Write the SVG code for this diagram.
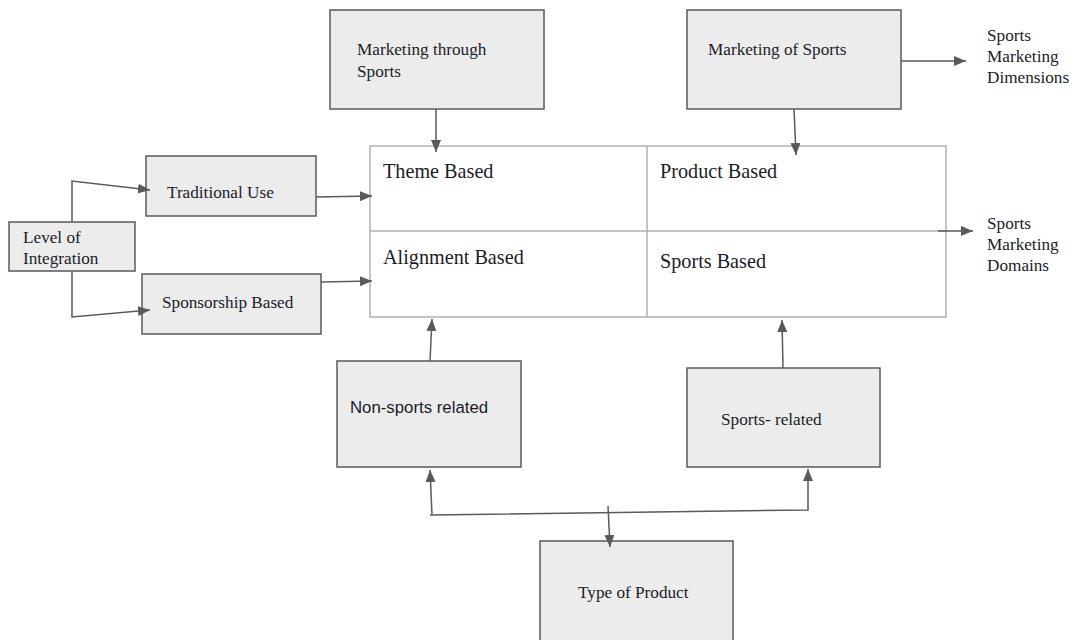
<svg xmlns="http://www.w3.org/2000/svg" width="1079" height="640" viewBox="0 0 1079 640">
<style>
.box{fill:#ececec;stroke:#5a5a5a;stroke-width:1.5}
.grid{fill:#fff;stroke:#b0b0b0;stroke-width:1.5}
.gl{stroke:#b0b0b0;stroke-width:1.5}
.c{fill:none;stroke:#5a5a5a;stroke-width:1.5}
.t{font-family:"Liberation Serif",serif;font-size:17.2px;fill:#1c1c28}
.g{font-family:"Liberation Serif",serif;font-size:20.2px;fill:#1c1c28}
.s{font-family:"Liberation Sans",sans-serif;font-size:16.8px;fill:#1c1c28}
</style>
<defs>
<marker id="a" viewBox="0 0 12 10" refX="12" refY="5" markerWidth="12" markerHeight="10" markerUnits="userSpaceOnUse" orient="auto">
<path d="M0,0 L12,5 L0,10 Z" fill="#5a5a5a"/>
</marker>
</defs>
<rect width="1079" height="640" fill="#fff"/>
<g id="grid">
<rect class="grid" x="370" y="146" width="576" height="171"/>
<line class="gl" x1="647" y1="146" x2="647" y2="317"/>
<line class="gl" x1="370" y1="231" x2="946" y2="231"/>
<text class="g" x="383" y="178">Theme Based</text>
<text class="g" x="660" y="178">Product Based</text>
<text class="g" x="383" y="264">Alignment Based</text>
<text class="g" x="660" y="268">Sports Based</text>
</g>
<g id="level">
<rect class="box" x="9" y="222" width="126" height="49"/>
<text class="t" x="23" y="243">Level of</text>
<text class="t" x="23" y="264">Integration</text>
</g>
<g id="traditional">
<rect class="box" x="146" y="156" width="170" height="60"/>
<text class="t" x="167" y="198">Traditional Use</text>
</g>
<g id="sponsorship">
<rect class="box" x="142" y="274" width="179" height="60"/>
<text class="t" x="162" y="308">Sponsorship Based</text>
</g>
<g id="through">
<rect class="box" x="330" y="10" width="214" height="99"/>
<text class="t" x="357" y="55">Marketing through</text>
<text class="t" x="357" y="77">Sports</text>
</g>
<g id="of">
<rect class="box" x="687" y="10" width="214" height="99"/>
<text class="t" x="708" y="55">Marketing of Sports</text>
</g>
<g id="dimensions">
<text class="t" x="987" y="41">Sports</text>
<text class="t" x="987" y="62">Marketing</text>
<text class="t" x="987" y="83">Dimensions</text>
</g>
<g id="domains">
<text class="t" x="987" y="229">Sports</text>
<text class="t" x="987" y="250">Marketing</text>
<text class="t" x="987" y="271">Domains</text>
</g>
<g id="nonsports">
<rect class="box" x="337" y="361" width="184" height="106"/>
<text class="s" x="350" y="413">Non-sports related</text>
</g>
<g id="sportsrelated">
<rect class="box" x="687" y="368" width="193" height="99"/>
<text class="t" x="721" y="425">Sports- related</text>
</g>
<g id="type">
<rect class="box" x="540" y="541" width="193" height="104"/>
<text class="t" x="578" y="598">Type of  Product</text>
</g>
<g id="connectors">
<polyline class="c" points="72,222 72,181 150,190" marker-end="url(#a)"/>
<polyline class="c" points="72,271 72,317 150,310" marker-end="url(#a)"/>
<line class="c" x1="316" y1="197" x2="372" y2="196" marker-end="url(#a)"/>
<line class="c" x1="321" y1="282" x2="372" y2="281" marker-end="url(#a)"/>
<line class="c" x1="436" y1="109" x2="436" y2="152" marker-end="url(#a)"/>
<line class="c" x1="794" y1="109" x2="796" y2="155" marker-end="url(#a)"/>
<line class="c" x1="901" y1="61" x2="966" y2="61" marker-end="url(#a)"/>
<line class="c" x1="938" y1="231" x2="973" y2="231" marker-end="url(#a)"/>
<line class="c" x1="430" y1="361" x2="432" y2="319" marker-end="url(#a)"/>
<line class="c" x1="783" y1="368" x2="782" y2="320" marker-end="url(#a)"/>
<polyline class="c" points="430,515 808,510 808,469" marker-end="url(#a)"/>
<line class="c" x1="432" y1="515" x2="430" y2="470" marker-end="url(#a)"/>
<line class="c" x1="608" y1="506" x2="610" y2="547" marker-end="url(#a)"/>
</g>
</svg>
